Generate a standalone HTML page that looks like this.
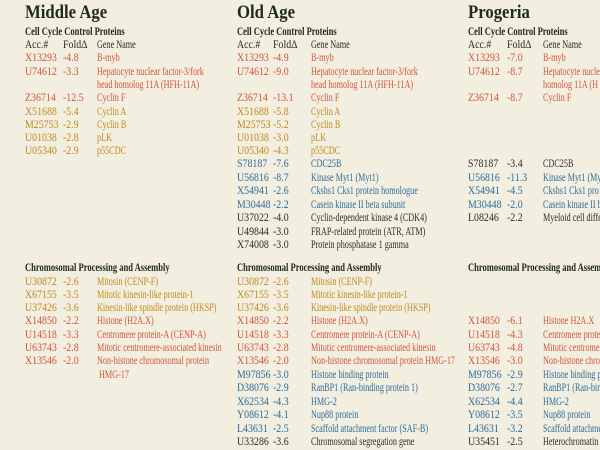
<!DOCTYPE html>
<html><head><meta charset="utf-8">
<style>
html,body{margin:0;padding:0;width:600px;height:450px;overflow:hidden}
body{background:#f2eee0;position:relative;font-family:"Liberation Serif",serif;}
.t{position:absolute;font-weight:bold;font-size:19px;color:#1e2a1c;transform:scaleX(.88);transform-origin:0 0;white-space:nowrap;line-height:20px}
.h{position:absolute;font-weight:bold;font-size:11.5px;color:#1e2a1c;transform:scaleX(.74);transform-origin:0 0;white-space:nowrap;line-height:13px}
.c{position:absolute;font-size:11.5px;line-height:13px;white-space:nowrap;transform-origin:0 0}
.a{transform:scaleX(.86)}
.n{transform:scaleX(.71)}
.k{color:#2b2b28}.r{color:#d2553c}.g{color:#c08a1c}.b{color:#2f6c9c}.d{color:#2e2e2a}
</style></head><body>
<div class="t" style="left:25px;top:3px">Middle Age</div>
<div class="t" style="left:237px;top:3px">Old Age</div>
<div class="t" style="left:468px;top:3px">Progeria</div>

<div class="h" style="left:25px;top:26px">Cell Cycle Control Proteins</div>
<div class="h" style="left:237px;top:26px">Cell Cycle Control Proteins</div>
<div class="h" style="left:468px;top:26px">Cell Cycle Control Proteins</div>
<div class="h" style="left:25px;top:262px">Chromosomal Processing and Assembly</div>
<div class="h" style="left:237px;top:262px">Chromosomal Processing and Assembly</div>
<div class="h" style="left:468px;top:262px">Chromosomal Processing and Assembly</div>

<!-- Middle Age -->
<div class="c a k" style="left:25px;top:39px">Acc.#</div><div class="c a k" style="left:63px;top:39px">FoldΔ</div><div class="c n k" style="left:97px;top:39px">Gene Name</div>
<div class="c a r" style="left:25px;top:52px">X13293</div><div class="c a r" style="left:63px;top:52px">-4.8</div><div class="c n r" style="left:97px;top:52px">B-myb</div>
<div class="c a r" style="left:25px;top:66px">U74612</div><div class="c a r" style="left:63px;top:66px">-3.3</div><div class="c n r" style="left:97px;top:66px">Hepatocyte nuclear factor-3/fork</div>
<div class="c n r" style="left:97px;top:79px">head homolog 11A (HFH-11A)</div>
<div class="c a r" style="left:25px;top:92px">Z36714</div><div class="c a r" style="left:63px;top:92px">-12.5</div><div class="c n r" style="left:97px;top:92px">Cyclin F</div>
<div class="c a g" style="left:25px;top:106px">X51688</div><div class="c a g" style="left:63px;top:106px">-5.4</div><div class="c n g" style="left:97px;top:106px">Cyclin A</div>
<div class="c a g" style="left:25px;top:119px">M25753</div><div class="c a g" style="left:63px;top:119px">-2.9</div><div class="c n g" style="left:97px;top:119px">Cyclin B</div>
<div class="c a g" style="left:25px;top:132px">U01038</div><div class="c a g" style="left:63px;top:132px">-2.8</div><div class="c n g" style="left:97px;top:132px">pLK</div>
<div class="c a g" style="left:25px;top:145px">U05340</div><div class="c a g" style="left:63px;top:145px">-2.9</div><div class="c n g" style="left:97px;top:145px">p55CDC</div>

<div class="c a g" style="left:25px;top:276px">U30872</div><div class="c a g" style="left:63px;top:276px">-2.6</div><div class="c n g" style="left:97px;top:276px">Mitosin (CENP-F)</div>
<div class="c a g" style="left:25px;top:289px">X67155</div><div class="c a g" style="left:63px;top:289px">-3.5</div><div class="c n g" style="left:97px;top:289px">Mitotic kinesin-like protein-1</div>
<div class="c a g" style="left:25px;top:302px">U37426</div><div class="c a g" style="left:63px;top:302px">-3.6</div><div class="c n g" style="left:97px;top:302px">Kinesin-like spindle protein (HKSP)</div>
<div class="c a r" style="left:25px;top:315px">X14850</div><div class="c a r" style="left:63px;top:315px">-2.2</div><div class="c n r" style="left:97px;top:315px">Histone (H2A.X)</div>
<div class="c a r" style="left:25px;top:329px">U14518</div><div class="c a r" style="left:63px;top:329px">-3.3</div><div class="c n r" style="left:97px;top:329px">Centromere protein-A (CENP-A)</div>
<div class="c a r" style="left:25px;top:342px">U63743</div><div class="c a r" style="left:63px;top:342px">-2.8</div><div class="c n r" style="left:97px;top:342px">Mitotic centromere-associated kinesin</div>
<div class="c a r" style="left:25px;top:355px">X13546</div><div class="c a r" style="left:63px;top:355px">-2.0</div><div class="c n r" style="left:97px;top:355px">Non-histone chromosomal protein</div>
<div class="c n r" style="left:99px;top:369px">HMG-17</div>

<!-- Old Age -->
<div class="c a k" style="left:237px;top:39px">Acc.#</div><div class="c a k" style="left:273px;top:39px">FoldΔ</div><div class="c n k" style="left:311px;top:39px">Gene Name</div>
<div class="c a r" style="left:237px;top:52px">X13293</div><div class="c a r" style="left:273px;top:52px">-4.9</div><div class="c n r" style="left:311px;top:52px">B-myb</div>
<div class="c a r" style="left:237px;top:66px">U74612</div><div class="c a r" style="left:273px;top:66px">-9.0</div><div class="c n r" style="left:311px;top:66px">Hepatocyte nuclear factor-3/fork</div>
<div class="c n r" style="left:311px;top:79px">head homolog 11A (HFH-11A)</div>
<div class="c a r" style="left:237px;top:92px">Z36714</div><div class="c a r" style="left:273px;top:92px">-13.1</div><div class="c n r" style="left:311px;top:92px">Cyclin F</div>
<div class="c a g" style="left:237px;top:106px">X51688</div><div class="c a g" style="left:273px;top:106px">-5.8</div><div class="c n g" style="left:311px;top:106px">Cyclin A</div>
<div class="c a g" style="left:237px;top:119px">M25753</div><div class="c a g" style="left:273px;top:119px">-5.2</div><div class="c n g" style="left:311px;top:119px">Cyclin B</div>
<div class="c a g" style="left:237px;top:132px">U01038</div><div class="c a g" style="left:273px;top:132px">-3.0</div><div class="c n g" style="left:311px;top:132px">pLK</div>
<div class="c a g" style="left:237px;top:145px">U05340</div><div class="c a g" style="left:273px;top:145px">-4.3</div><div class="c n g" style="left:311px;top:145px">p55CDC</div>
<div class="c a b" style="left:237px;top:158px">S78187</div><div class="c a b" style="left:273px;top:158px">-7.6</div><div class="c n b" style="left:311px;top:158px">CDC25B</div>
<div class="c a b" style="left:237px;top:172px">U56816</div><div class="c a b" style="left:273px;top:172px">-8.7</div><div class="c n b" style="left:311px;top:172px">Kinase Myt1 (Myt1)</div>
<div class="c a b" style="left:237px;top:185px">X54941</div><div class="c a b" style="left:273px;top:185px">-2.6</div><div class="c n b" style="left:311px;top:185px">Ckshs1 Cks1 protein homologue</div>
<div class="c a b" style="left:237px;top:199px">M30448</div><div class="c a b" style="left:273px;top:199px">-2.2</div><div class="c n b" style="left:311px;top:199px">Casein kinase II beta subunit</div>
<div class="c a d" style="left:237px;top:212px">U37022</div><div class="c a d" style="left:273px;top:212px">-4.0</div><div class="c n d" style="left:311px;top:212px">Cyclin-dependent kinase 4 (CDK4)</div>
<div class="c a d" style="left:237px;top:226px">U49844</div><div class="c a d" style="left:273px;top:226px">-3.0</div><div class="c n d" style="left:311px;top:226px">FRAP-related protein (ATR, ATM)</div>
<div class="c a d" style="left:237px;top:239px">X74008</div><div class="c a d" style="left:273px;top:239px">-3.0</div><div class="c n d" style="left:311px;top:239px">Protein phosphatase 1 gamma</div>

<div class="c a g" style="left:237px;top:276px">U30872</div><div class="c a g" style="left:273px;top:276px">-2.6</div><div class="c n g" style="left:311px;top:276px">Mitosin (CENP-F)</div>
<div class="c a g" style="left:237px;top:289px">X67155</div><div class="c a g" style="left:273px;top:289px">-3.5</div><div class="c n g" style="left:311px;top:289px">Mitotic kinesin-like protein-1</div>
<div class="c a g" style="left:237px;top:302px">U37426</div><div class="c a g" style="left:273px;top:302px">-3.6</div><div class="c n g" style="left:311px;top:302px">Kinesin-like spindle protein (HKSP)</div>
<div class="c a r" style="left:237px;top:315px">X14850</div><div class="c a r" style="left:273px;top:315px">-2.2</div><div class="c n r" style="left:311px;top:315px">Histone (H2A.X)</div>
<div class="c a r" style="left:237px;top:329px">U14518</div><div class="c a r" style="left:273px;top:329px">-3.3</div><div class="c n r" style="left:311px;top:329px">Centromere protein-A (CENP-A)</div>
<div class="c a r" style="left:237px;top:342px">U63743</div><div class="c a r" style="left:273px;top:342px">-2.8</div><div class="c n r" style="left:311px;top:342px">Mitotic centromere-associated kinesin</div>
<div class="c a r" style="left:237px;top:355px">X13546</div><div class="c a r" style="left:273px;top:355px">-2.0</div><div class="c n r" style="left:311px;top:355px">Non-histone chromosomal protein HMG-17</div>
<div class="c a b" style="left:237px;top:369px">M97856</div><div class="c a b" style="left:273px;top:369px">-3.0</div><div class="c n b" style="left:311px;top:369px">Histone binding protein</div>
<div class="c a b" style="left:237px;top:382px">D38076</div><div class="c a b" style="left:273px;top:382px">-2.9</div><div class="c n b" style="left:311px;top:382px">RanBP1 (Ran-binding protein 1)</div>
<div class="c a b" style="left:237px;top:396px">X62534</div><div class="c a b" style="left:273px;top:396px">-4.3</div><div class="c n b" style="left:311px;top:396px">HMG-2</div>
<div class="c a b" style="left:237px;top:409px">Y08612</div><div class="c a b" style="left:273px;top:409px">-4.1</div><div class="c n b" style="left:311px;top:409px">Nup88 protein</div>
<div class="c a b" style="left:237px;top:423px">L43631</div><div class="c a b" style="left:273px;top:423px">-2.5</div><div class="c n b" style="left:311px;top:423px">Scaffold attachment factor (SAF-B)</div>
<div class="c a d" style="left:237px;top:436px">U33286</div><div class="c a d" style="left:273px;top:436px">-3.6</div><div class="c n d" style="left:311px;top:436px">Chromosomal segregation gene</div>

<!-- Progeria -->
<div class="c a k" style="left:468px;top:39px">Acc.#</div><div class="c a k" style="left:507px;top:39px">FoldΔ</div><div class="c n k" style="left:543px;top:39px">Gene Name</div>
<div class="c a r" style="left:468px;top:52px">X13293</div><div class="c a r" style="left:507px;top:52px">-7.0</div><div class="c n r" style="left:543px;top:52px">B-myb</div>
<div class="c a r" style="left:468px;top:66px">U74612</div><div class="c a r" style="left:507px;top:66px">-8.7</div><div class="c n r" style="left:543px;top:66px">Hepatocyte nucle</div>
<div class="c n r" style="left:543px;top:79px">homolog 11A (H</div>
<div class="c a r" style="left:468px;top:92px">Z36714</div><div class="c a r" style="left:507px;top:92px">-8.7</div><div class="c n r" style="left:543px;top:92px">Cyclin F</div>
<div class="c a d" style="left:468px;top:158px">S78187</div><div class="c a d" style="left:507px;top:158px">-3.4</div><div class="c n d" style="left:543px;top:158px">CDC25B</div>
<div class="c a b" style="left:468px;top:172px">U56816</div><div class="c a b" style="left:507px;top:172px">-11.3</div><div class="c n b" style="left:543px;top:172px">Kinase Myt1 (My</div>
<div class="c a b" style="left:468px;top:185px">X54941</div><div class="c a b" style="left:507px;top:185px">-4.5</div><div class="c n b" style="left:543px;top:185px">Ckshs1 Cks1 pro</div>
<div class="c a b" style="left:468px;top:199px">M30448</div><div class="c a b" style="left:507px;top:199px">-2.0</div><div class="c n b" style="left:543px;top:199px">Casein kinase II b</div>
<div class="c a d" style="left:468px;top:212px">L08246</div><div class="c a d" style="left:507px;top:212px">-2.2</div><div class="c n d" style="left:543px;top:212px">Myeloid cell diffe</div>

<div class="c a r" style="left:468px;top:315px">X14850</div><div class="c a r" style="left:507px;top:315px">-6.1</div><div class="c n r" style="left:543px;top:315px">Histone H2A.X</div>
<div class="c a r" style="left:468px;top:329px">U14518</div><div class="c a r" style="left:507px;top:329px">-4.3</div><div class="c n r" style="left:543px;top:329px">Centromere prote</div>
<div class="c a r" style="left:468px;top:342px">U63743</div><div class="c a r" style="left:507px;top:342px">-4.8</div><div class="c n r" style="left:543px;top:342px">Mitotic centrome</div>
<div class="c a r" style="left:468px;top:355px">X13546</div><div class="c a r" style="left:507px;top:355px">-3.0</div><div class="c n r" style="left:543px;top:355px">Non-histone chro</div>
<div class="c a b" style="left:468px;top:369px">M97856</div><div class="c a b" style="left:507px;top:369px">-2.9</div><div class="c n b" style="left:543px;top:369px">Histone binding p</div>
<div class="c a b" style="left:468px;top:382px">D38076</div><div class="c a b" style="left:507px;top:382px">-2.7</div><div class="c n b" style="left:543px;top:382px">RanBP1 (Ran-bin</div>
<div class="c a b" style="left:468px;top:396px">X62534</div><div class="c a b" style="left:507px;top:396px">-4.4</div><div class="c n b" style="left:543px;top:396px">HMG-2</div>
<div class="c a b" style="left:468px;top:409px">Y08612</div><div class="c a b" style="left:507px;top:409px">-3.5</div><div class="c n b" style="left:543px;top:409px">Nup88 protein</div>
<div class="c a b" style="left:468px;top:423px">L43631</div><div class="c a b" style="left:507px;top:423px">-3.2</div><div class="c n b" style="left:543px;top:423px">Scaffold attachme</div>
<div class="c a d" style="left:468px;top:436px">U35451</div><div class="c a d" style="left:507px;top:436px">-2.5</div><div class="c n d" style="left:543px;top:436px">Heterochromatin</div>
</body></html>
